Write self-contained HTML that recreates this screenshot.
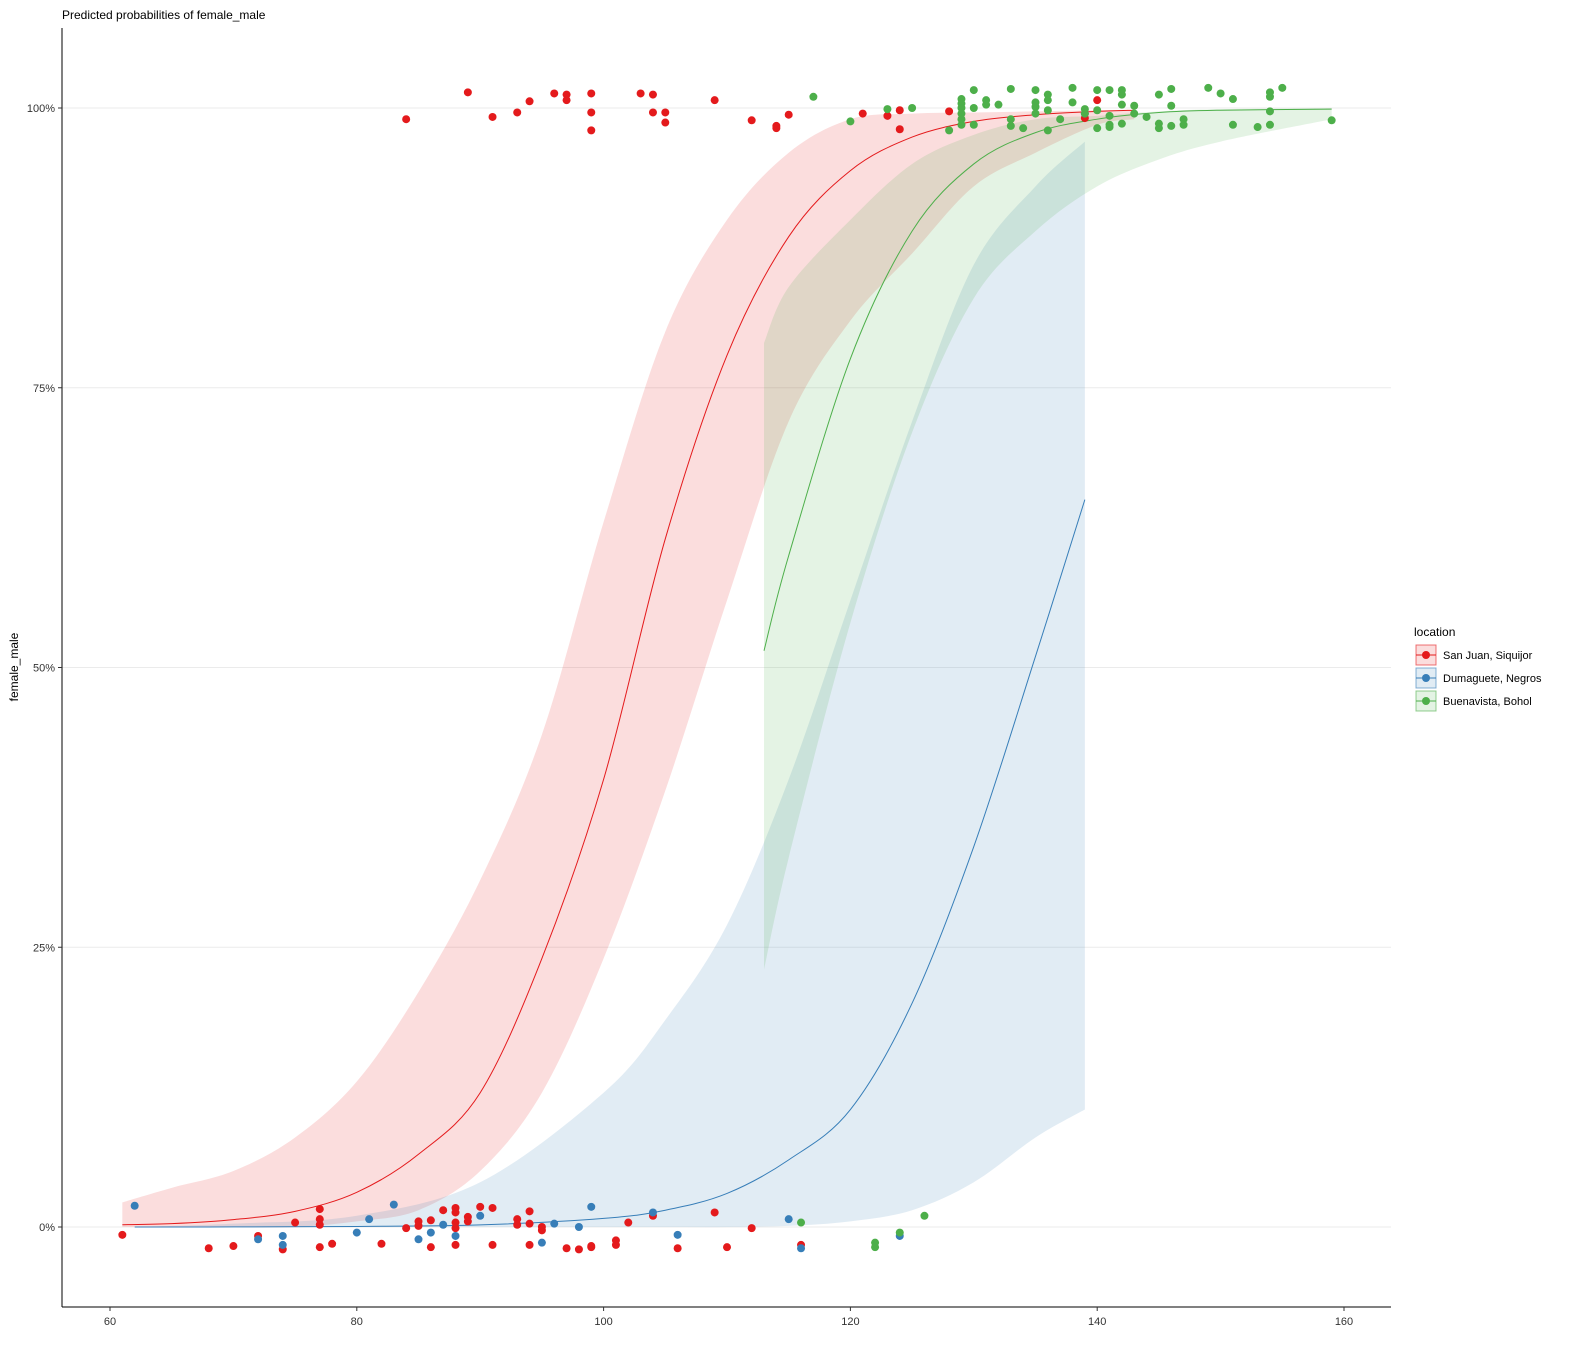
<!DOCTYPE html>
<html><head><meta charset="utf-8"><style>
body{margin:0;background:#fff;font-family:"Liberation Sans",sans-serif}
svg text{font-family:"Liberation Sans",sans-serif}
</style></head><body>
<svg id="chart" width="1589" height="1352">
<text x="62" y="19" font-size="12" fill="#000">Predicted probabilities of female_male</text>
<g id="grid"></g>
<g id="bands"></g>
<g id="lines"></g>
<g id="pts"></g>
<line x1="62" y1="28" x2="62" y2="1307" stroke="#000"/>
<line x1="62" y1="1307" x2="1391" y2="1307" stroke="#000"/>
<g id="axes"></g>
<text transform="translate(18,667) rotate(-90)" text-anchor="middle" font-size="12">female_male</text>
<g id="legend">
<text x="1414" y="636" font-size="12">location</text>
</g>
</svg>
<script>
const xTicks=[60,80,100,120,140,160];
const yTicks=[0,25,50,75,100];
const groups=["San Juan, Siquijor","Dumaguete, Negros","Buenavista, Bohol"];
const colors=["#E41A1C","#377EB8","#4DAF4A"];
const redX=[61,65,70,75,80,85,90,95,100,105,110,115,120,125,130,135,140,143];
const redFit=[0.2,0.3,0.66,1.4,3.1,6.5,12,24,40,61.5,77.9,88.5,94.4,97.4,98.8,99.4,99.7,99.8];
const redLo=[0,0,0,0,0.5,1.5,5,12,24,39,56,72,81,87,93,96,98.5,99];
const redHi=[2.2,3.5,5,8,13,21,31,44,63,80,90,96,99,99.5,99.6,99.7,99.8,99.8];
const blueX=[62,70,80,90,100,105,110,115,120,125,130,135,139];
const blueFit=[0,0.01,0.05,0.19,0.77,1.5,3,6,10.5,20,34,51,65];
const blueLo=[0,0,0,0,0,0,0,0.1,0.5,1.5,4,8,10.5];
const blueHi=[0,0.3,1,4,12,18.5,27,40,56,72,86,93,97];
const greenX=[113,115,120,125,130,135,140,145,150,159];
const greenFit=[51.5,60,77.6,89,95,97.8,99,99.6,99.8,99.9];
const greenLo=[23,33,54,71,83,89,93,95.4,97,99];
const greenHi=[79,84,90,95,97.6,99,99.3,99.7,99.9,100];
const redPtX=[84,89,91,93,94,96,97,97,99,99,99,103,104,104,105,105,109,112,114,114,115,121,123,124,124,128,140,139,61,68,70,72,74,75,77,77,77,77,78,82,84,85,85,86,86,87,88,88,88,88,88,89,89,90,91,91,93,93,94,94,94,95,95,97,98,99,99,101,101,102,104,106,109,110,112,116];
const redPtY=[99,101.4,99.2,99.6,100.6,101.3,101.2,100.7,101.3,99.6,98,101.3,101.2,99.6,99.6,98.7,100.7,98.9,98.4,98.2,99.4,99.5,99.3,99.8,98.1,99.7,100.7,99.1,-0.7,-1.9,-1.7,-0.8,-2,0.4,1.6,0.7,0.2,-1.8,-1.5,-1.5,-0.1,0.5,0.1,0.6,-1.8,1.5,1.7,1.3,0.4,-0.1,-1.6,0.9,0.5,1.8,1.7,-1.6,0.7,0.2,1.4,0.3,-1.6,-0.3,0,-1.9,-2,-1.8,-1.7,-1.2,-1.6,0.4,1,-1.9,1.3,-1.8,-0.1,-1.6];
const bluePtX=[62,72,74,74,80,81,83,85,86,87,88,90,95,96,98,99,104,106,115,116,124,139];
const bluePtY=[1.9,-1.1,-0.8,-1.6,-0.5,0.7,2,-1.1,-0.5,0.2,-0.8,1,-1.4,0.3,0,1.8,1.3,-0.7,0.7,-1.9,-0.8,99.5];
const greenPtX=[117,120,123,125,128,129,129,129,129,129,129,130,130,130,131,131,132,133,133,133,134,135,135,135,135,136,136,136,136,137,138,138,139,139,140,140,140,141,141,141,141,142,142,142,142,143,143,144,145,145,145,146,146,146,147,147,149,150,151,151,153,154,154,154,154,155,159,116,122,122,124,126];
const greenPtY=[101,98.8,99.9,100,98,100.8,100.4,100,99.5,99,98.5,101.6,100,98.5,100.7,100.3,100.3,99,98.4,101.7,98.2,100.5,100.1,99.5,101.6,101.2,100.7,99.8,98,99,100.5,101.8,99.9,99.5,101.6,99.8,98.2,101.6,99.3,98.5,98.3,101.6,101.2,100.3,98.6,100.2,99.5,99.2,101.2,98.6,98.2,101.7,100.2,98.4,98.5,99,101.8,101.3,100.8,98.5,98.3,101.4,101,99.7,98.5,101.8,98.9,0.4,-1.4,-1.8,-0.5,1];

const NS="http://www.w3.org/2000/svg";
const sx=v=>110+(v-60)*12.34;
const sy=v=>1227-v*11.19;
function mk(tag,parent,attrs){const e=document.createElementNS(NS,tag);for(const k in attrs)e.setAttribute(k,attrs[k]);parent.appendChild(e);return e;}
function smooth(P,start){
  let d=start?('M'+P[0][0]+','+P[0][1]):('L'+P[0][0]+','+P[0][1]);
  for(let i=0;i<P.length-1;i++){
    const p0=P[Math.max(0,i-1)],p1=P[i],p2=P[i+1],p3=P[Math.min(P.length-1,i+2)];
    const c1x=p1[0]+(p2[0]-p0[0])/6,c1y=p1[1]+(p2[1]-p0[1])/6;
    const c2x=p2[0]-(p3[0]-p1[0])/6,c2y=p2[1]-(p3[1]-p1[1])/6;
    d+='C'+c1x+','+c1y+' '+c2x+','+c2y+' '+p2[0]+','+p2[1];
  }
  return d;
}
const grid=document.getElementById('grid'),axes=document.getElementById('axes');
yTicks.forEach(t=>{
  const g=mk('line',grid,{x1:62,x2:1391,y1:sy(t),y2:sy(t),stroke:'#ebebeb'});
  
  
  const tk=mk('line',axes,{x1:58,x2:62,y1:sy(t),y2:sy(t),stroke:'#333'});
  
  
  const tx=mk('text',axes,{x:55,y:sy(t)+4,'text-anchor':'end','font-size':11,fill:'#333'});
  tx.textContent=t+'%';
  
  
});
xTicks.forEach(t=>{
  const tk=mk('line',axes,{x1:sx(t),x2:sx(t),y1:1307,y2:1311,stroke:'#333'});
  
  
  const tx=mk('text',axes,{x:sx(t),y:1325,'text-anchor':'middle','font-size':11,fill:'#333'});
  tx.textContent=t;
  
  
});
const series=[[redX,redFit,redLo,redHi,redPtX,redPtY],[blueX,blueFit,blueLo,blueHi,bluePtX,bluePtY],[greenX,greenFit,greenLo,greenHi,greenPtX,greenPtY]];
const bands=document.getElementById('bands'),lines=document.getElementById('lines'),pts=document.getElementById('pts');
series.forEach((s,i)=>{
  const [X,F,L,H]=s;
  const up=X.map((x,j)=>[sx(x),sy(H[j])]);
  const lo=X.map((x,j)=>[sx(x),sy(L[j])]).reverse();
  const d=smooth(up,true)+smooth(lo,false)+'Z';
  const b=mk('path',bands,{d:d,fill:colors[i],'fill-opacity':0.15});
  
  
  const l=mk('path',lines,{d:smooth(X.map((x,j)=>[sx(x),sy(F[j])]),true),fill:'none',stroke:colors[i],'stroke-width':1});
  
  
});
series.forEach((s,i)=>{
  const PX=s[4],PY=s[5];
  PX.forEach((x,j)=>{
    const c=mk('circle',pts,{cx:sx(x),cy:sy(PY[j]),r:4,fill:colors[i]});
    
    
  });
});
const leg=document.getElementById('legend');
groups.forEach((g,i)=>{
  const y=655+i*23;
  const r=mk('rect',leg,{x:1416,y:y-10,width:20,height:20,fill:colors[i],'fill-opacity':0.15,stroke:colors[i],'stroke-opacity':0.6});
  
  
  const ln=mk('line',leg,{x1:1416,x2:1436,y1:y,y2:y,stroke:colors[i]});
  
  
  const c=mk('circle',leg,{cx:1426,cy:y,r:4,fill:colors[i]});
  
  
  const t=mk('text',leg,{x:1443,y:y+4,'font-size':11,fill:'#000'});
  t.textContent=g;
  
  
});
</script>
</body></html>
